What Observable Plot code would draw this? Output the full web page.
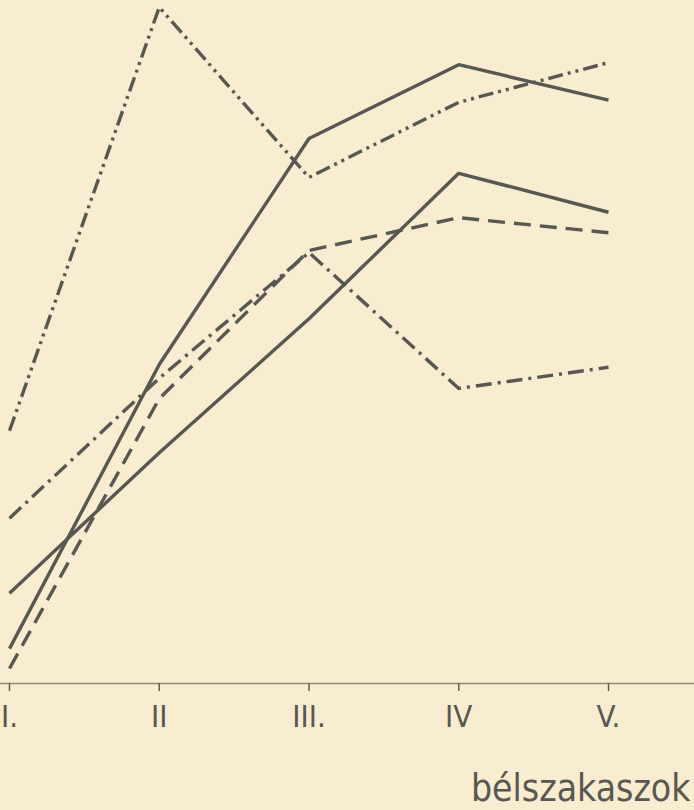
<!DOCTYPE html>
<html>
<head>
<meta charset="utf-8">
<script src="https://cdn.jsdelivr.net/npm/d3@7"></script>
<script src="https://cdn.jsdelivr.net/npm/@observablehq/plot@0.6"></script>
<style>
  html, body { margin: 0; padding: 0; background: #f8ecd1; }
  #chart svg { display: block; background: #f8ecd1; }
</style>
</head>
<body>
<div id="chart"></div>
<script>
// Intestinal segments (x positions 1..5)
const segments = [1, 2, 3, 4, 5];
const segmentLabels = ["I.", "II", "III.", "IV", "V."];

// Series values (arbitrary units; 0 = axis line)
const dashDotDot = [37.0, 99.0, 74.1, 85.1, 90.9];
const solidA     = [5.1, 46.7, 79.8, 90.6, 85.4];
const solidB     = [13.2, 33.8, 53.4, 74.7, 69.0];
const dashed     = [2.2, 41.7, 63.4, 68.2, 66.0];
const dashDot    = [24.2, 44.7, 63.1, 43.2, 46.3];

const axisTitle = "bélszakaszok";

const series = [
  {values: dashDotDot, dash: "15,5,3,5,3,5"},
  {values: solidA, dash: null},
  {values: solidB, dash: null},
  {values: dashed, dash: "17,9"},
  {values: dashDot, dash: "16,6,3,6"}
];

const ink = "#595850";
const font = "'DejaVu Sans Condensed', 'DejaVu Sans', sans-serif";

const lineMarks = series.map(s =>
  Plot.line(segments.map((x, i) => ({x, y: s.values[i]})), {
    x: "x", y: "y",
    stroke: ink, strokeWidth: 3.4,
    strokeDasharray: s.dash ?? undefined,
    strokeLinejoin: "miter", strokeLinecap: "butt"
  })
);

const chart = Plot.plot({
  width: 694,
  height: 810,
  marginLeft: 9,
  marginRight: 86,
  marginTop: 0,
  marginBottom: 127,
  style: {background: "#f8ecd1", color: ink, fontFamily: font, overflow: "visible"},
  x: {domain: [1, 5], axis: null},
  y: {domain: [0, 100], axis: null},
  marks: [
    Plot.ruleY([0], {stroke: "#8c8980", strokeWidth: 1.6, insetLeft: -9, insetRight: -86}),
    Plot.axisX(segments, {
      tickSize: 8, tickPadding: 13, stroke: ink, strokeWidth: 1.4,
      tickFormat: d => segmentLabels[segments.indexOf(d)],
      fontSize: 31, fill: ink, label: null
    }),
    ...lineMarks,
    Plot.text([axisTitle], {
      text: d => d, frameAnchor: "bottom-right", textAnchor: "end", lineAnchor: "bottom",
      dx: 82, dy: 117, fontSize: 37, fill: ink, fontFamily: font
    })
  ]
});

document.getElementById("chart").append(chart);
</script>
</body>
</html>
